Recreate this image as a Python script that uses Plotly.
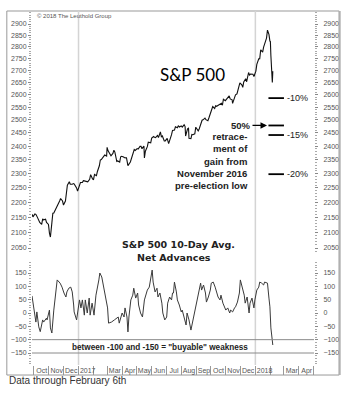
import math
import plotly.graph_objects as go
import pandas as pd

# ---------------- data ----------------
sp_dates = [
    "2016-09-27", "2016-09-29", "2016-10-03", "2016-10-05", "2016-10-07", "2016-10-11", "2016-10-13",
    "2016-10-17", "2016-10-19", "2016-10-21", "2016-10-25", "2016-10-27", "2016-10-31", "2016-11-02",
    "2016-11-04", "2016-11-07", "2016-11-09", "2016-11-11", "2016-11-15", "2016-11-17", "2016-11-21",
    "2016-11-23", "2016-11-25", "2016-11-29", "2016-12-01", "2016-12-05", "2016-12-07", "2016-12-09",
    "2016-12-13", "2016-12-15", "2016-12-19", "2016-12-21", "2016-12-23", "2016-12-28", "2016-12-30",
    "2017-01-03", "2017-01-05", "2017-01-09", "2017-01-11", "2017-01-13", "2017-01-18", "2017-01-20",
    "2017-01-24", "2017-01-26", "2017-01-30", "2017-02-01", "2017-02-03", "2017-02-07", "2017-02-09",
    "2017-02-13", "2017-02-15", "2017-02-17", "2017-02-22", "2017-02-24", "2017-02-28", "2017-03-01",
    "2017-03-03", "2017-03-07", "2017-03-09", "2017-03-13", "2017-03-15", "2017-03-17", "2017-03-21",
    "2017-03-23", "2017-03-27", "2017-03-29", "2017-03-31", "2017-04-04", "2017-04-06", "2017-04-10",
    "2017-04-12", "2017-04-13", "2017-04-18", "2017-04-20", "2017-04-24", "2017-04-26", "2017-04-28",
    "2017-05-02", "2017-05-04", "2017-05-08", "2017-05-10", "2017-05-12", "2017-05-16", "2017-05-17",
    "2017-05-19", "2017-05-23", "2017-05-25", "2017-05-30", "2017-06-01", "2017-06-05", "2017-06-07",
    "2017-06-09", "2017-06-13", "2017-06-15", "2017-06-19", "2017-06-21", "2017-06-23", "2017-06-27",
    "2017-06-29", "2017-07-03", "2017-07-06", "2017-07-10", "2017-07-12", "2017-07-14", "2017-07-18",
    "2017-07-20", "2017-07-24", "2017-07-26", "2017-07-28", "2017-08-01", "2017-08-03", "2017-08-07",
    "2017-08-09", "2017-08-10", "2017-08-14", "2017-08-16", "2017-08-17", "2017-08-21", "2017-08-23",
    "2017-08-25", "2017-08-29", "2017-08-31", "2017-09-05", "2017-09-07", "2017-09-11", "2017-09-13",
    "2017-09-15", "2017-09-19", "2017-09-21", "2017-09-25", "2017-09-27", "2017-09-29", "2017-10-03",
    "2017-10-05", "2017-10-09", "2017-10-11", "2017-10-13", "2017-10-17", "2017-10-19", "2017-10-23",
    "2017-10-25", "2017-10-27", "2017-10-31", "2017-11-02", "2017-11-06", "2017-11-08", "2017-11-10",
    "2017-11-14", "2017-11-15", "2017-11-17", "2017-11-21", "2017-11-24", "2017-11-28", "2017-11-30",
    "2017-12-04", "2017-12-06", "2017-12-08", "2017-12-12", "2017-12-14", "2017-12-18", "2017-12-20",
    "2017-12-22", "2017-12-27", "2017-12-29", "2018-01-02", "2018-01-04", "2018-01-08", "2018-01-10",
    "2018-01-12", "2018-01-16", "2018-01-18", "2018-01-22", "2018-01-24", "2018-01-26", "2018-01-29",
    "2018-01-31", "2018-02-01", "2018-02-02", "2018-02-05", "2018-02-06",
]
sp_close = [
    2159.9, 2151.1, 2161.2, 2159.7, 2153.7, 2136.7, 2132.6,
    2126.5, 2144.3, 2141.2, 2143.2, 2133.0, 2126.2, 2097.9,
    2085.2, 2131.5, 2163.3, 2164.4, 2180.4, 2187.1, 2198.2,
    2204.7, 2213.4, 2204.7, 2191.1, 2204.7, 2241.4, 2259.5,
    2271.7, 2262.5, 2262.5, 2265.2, 2263.8, 2249.9, 2238.8,
    2257.8, 2269.0, 2268.9, 2275.3, 2274.6, 2271.9, 2271.3,
    2280.1, 2296.7, 2280.9, 2279.6, 2297.4, 2293.1, 2307.9,
    2328.3, 2349.3, 2351.2, 2362.8, 2367.3, 2363.6, 2396.0,
    2383.1, 2368.4, 2364.9, 2373.5, 2385.3, 2378.3, 2344.0,
    2346.0, 2341.6, 2361.1, 2362.7, 2360.2, 2357.5, 2357.2,
    2344.9, 2329.0, 2342.2, 2355.8, 2374.2, 2387.5, 2384.2,
    2391.2, 2389.5, 2399.4, 2399.6, 2390.9, 2400.7, 2357.0,
    2381.7, 2398.4, 2415.1, 2412.9, 2430.1, 2436.1, 2433.1,
    2431.8, 2440.4, 2432.5, 2453.5, 2435.6, 2438.3, 2419.4,
    2419.7, 2429.0, 2409.8, 2427.4, 2443.3, 2459.3, 2460.6,
    2473.5, 2469.9, 2477.8, 2472.1, 2476.4, 2472.2, 2480.9,
    2474.0, 2438.2, 2465.8, 2468.1, 2430.0, 2428.4, 2444.0,
    2443.1, 2446.3, 2471.7, 2457.9, 2465.1, 2488.1, 2498.4,
    2500.2, 2506.7, 2500.6, 2496.7, 2507.0, 2519.4, 2534.6,
    2552.1, 2544.7, 2555.2, 2553.2, 2559.4, 2562.1, 2565.0,
    2557.2, 2581.1, 2575.3, 2579.9, 2591.1, 2594.4, 2582.3,
    2578.9, 2564.6, 2578.9, 2599.0, 2602.4, 2627.0, 2647.6,
    2639.4, 2629.3, 2651.5, 2664.1, 2652.0, 2690.2, 2679.3,
    2683.3, 2682.6, 2673.6, 2695.8, 2724.0, 2747.7, 2748.2,
    2786.2, 2776.4, 2798.0, 2833.0, 2837.5, 2872.9, 2853.5,
    2823.8, 2822.0, 2762.1, 2648.9, 2695.1,
]

na_dates = [
    "2016-09-27", "2016-10-05", "2016-10-07", "2016-10-11", "2016-10-14", "2016-10-19", "2016-10-21",
    "2016-10-27", "2016-10-28", "2016-11-02", "2016-11-04", "2016-11-07", "2016-11-11", "2016-11-14",
    "2016-11-18", "2016-11-24", "2016-11-28", "2016-12-02", "2016-12-06", "2016-12-08", "2016-12-12",
    "2016-12-16", "2016-12-19", "2016-12-22", "2016-12-23", "2016-12-28", "2016-12-30", "2017-01-03",
    "2017-01-06", "2017-01-09", "2017-01-13", "2017-01-15", "2017-01-19", "2017-01-23", "2017-01-25",
    "2017-01-29", "2017-02-02", "2017-02-06", "2017-02-12", "2017-02-14", "2017-02-18", "2017-02-22",
    "2017-02-26", "2017-03-02", "2017-03-04", "2017-03-10", "2017-03-16", "2017-03-24", "2017-03-26",
    "2017-04-01", "2017-04-05", "2017-04-07", "2017-04-11", "2017-04-13", "2017-04-15", "2017-04-19",
    "2017-04-23", "2017-04-25", "2017-04-29", "2017-05-03", "2017-05-05", "2017-05-09", "2017-05-13",
    "2017-05-17", "2017-05-23", "2017-05-27", "2017-06-02", "2017-06-04", "2017-06-08", "2017-06-12",
    "2017-06-14", "2017-06-18", "2017-06-22", "2017-06-24", "2017-06-28", "2017-07-02", "2017-07-04",
    "2017-07-08", "2017-07-12", "2017-07-14", "2017-07-16", "2017-07-18", "2017-07-22", "2017-07-24",
    "2017-07-28", "2017-08-01", "2017-08-03", "2017-08-07", "2017-08-11", "2017-08-13", "2017-08-17",
    "2017-08-21", "2017-08-23", "2017-08-27", "2017-08-31", "2017-09-02", "2017-09-06", "2017-09-10",
    "2017-09-12", "2017-09-16", "2017-09-20", "2017-09-22", "2017-09-26", "2017-09-30", "2017-10-02",
    "2017-10-06", "2017-10-10", "2017-10-12", "2017-10-16", "2017-10-20", "2017-10-22", "2017-10-26",
    "2017-10-30", "2017-11-01", "2017-11-05", "2017-11-09", "2017-11-11", "2017-11-15", "2017-11-19",
    "2017-11-21", "2017-11-25", "2017-11-29", "2017-12-01", "2017-12-05", "2017-12-09", "2017-12-11",
    "2017-12-15", "2017-12-19", "2017-12-21", "2017-12-25", "2017-12-29", "2017-12-31", "2018-01-04",
    "2018-01-08", "2018-01-10", "2018-01-14", "2018-01-18", "2018-01-20", "2018-01-26", "2018-01-29",
    "2018-01-31", "2018-02-02", "2018-02-06",
]
na_vals = [
    64, -34, 4, -52, -70, -26, -34,
    -19, -26, 11, -56, -75, 11, 67,
    124, 112, 97, 75, 60, 79, 93,
    97, 79, 30, 4, -26, 4, 49,
    19, 49, -8, 49, 0, 56, -8,
    37, -8, 67, 124, 150, 135, 97,
    60, 19, -38, -34, -26, -15, -38,
    0, -15, 19, -15, -71, -15, 49,
    67, 93, 56, 75, 30, 0, -15,
    49, 86, 97, 161, 116, 79, 93,
    60, 75, 37, 0, -26, -15, 37,
    60, 49, 75, 75, 116, 79, 49,
    30, 4, 11, -19, -45, 0, -26,
    -64, -45, -8, 23, 37, 75, 112,
    86, 105, 75, 41, 60, 86, 112,
    116, 97, 86, 60, 49, 67, 37,
    19, 11, 19, 0, 11, 4, 19,
    23, 41, 75, 124, 97, 67, 37,
    60, 0, 37, 56, 19, 49, 86,
    97, 116, 112, 105, 116, 112, 56,
    23, -56, -120,
]

sp_ticks = [2050, 2100, 2150, 2200, 2250, 2300, 2350, 2400, 2450, 2500,
            2550, 2600, 2650, 2700, 2750, 2800, 2850, 2900]
na_ticks = [-150, -100, -50, 0, 50, 100, 150]

month_starts = ["2016-10-01", "2016-11-01", "2016-12-01", "2017-01-01", "2017-03-01", "2017-04-01",
                "2017-05-01", "2017-06-01", "2017-07-01", "2017-08-01", "2017-09-01", "2017-10-01",
                "2017-11-01", "2017-12-01", "2018-01-01", "2018-03-01", "2018-04-01"]
month_labels = ["Oct", "Nov", "Dec", "2017", "Mar", "Apr", "May", "Jun", "Jul", "Aug", "Sep", "Oct",
                "Nov", "Dec", "2018", "Mar", "Apr"]

peak = 2872.87
election_low = 2083.79
drawdown_pcts = [-10, -15, -20]
drawdown_labels = ["-10%", "-15%", "-20%"]
year_lines = ["2017-01-01", "2018-01-01"]
buyable_band = [-100, -150]

# ---------------- figure ----------------
FONT = "Liberation Sans, Arial, sans-serif"
SP_RANGE = [3.23308, 3.47114]
NA_RANGE = [-195, 1132.5]

fig = go.Figure()
fig.add_trace(go.Scatter(x=sp_dates, y=sp_close, mode="lines",
                         line=dict(color="#111111", width=1.1), xaxis="x", yaxis="y",
                         hoverinfo="skip"))
fig.add_trace(go.Scatter(x=na_dates, y=na_vals, mode="lines",
                         line=dict(color="#3a3a3a", width=1), xaxis="x", yaxis="y2",
                         hoverinfo="skip"))
# invisible companions so the right-hand axes are drawn
fig.add_trace(go.Scatter(x=sp_dates, y=sp_close, mode="lines", line=dict(width=0),
                         opacity=0, xaxis="x", yaxis="y3", hoverinfo="skip"))
fig.add_trace(go.Scatter(x=na_dates, y=na_vals, mode="lines", line=dict(width=0),
                         opacity=0, xaxis="x", yaxis="y4", hoverinfo="skip"))

label_pos = []
for d, lab in zip(month_starts, month_labels):
    off = 19 if lab.isdigit() else 16
    label_pos.append((pd.Timestamp(d) + pd.Timedelta(days=off)).strftime("%Y-%m-%d"))

tickfont = dict(family=FONT, size=7, color="#555555")
sp_minor = list(range(2040, 2960, 10))
na_minor = list(range(-190, 200, 10))

common_y = dict(showgrid=False, zeroline=False, showline=False, ticks="outside",
                ticklen=3, tickcolor="#888888", tickwidth=1, tickfont=tickfont)

fig.update_layout(
    width=350, height=394,
    margin=dict(l=28, r=31, t=11, b=29),
    paper_bgcolor="white", plot_bgcolor="white",
    showlegend=False,
    xaxis=dict(type="date", range=["2016-09-27", "2018-05-02"], domain=[0, 1], anchor="y",
               tickmode="array", tickvals=label_pos, ticktext=month_labels, ticks="",
               tickangle=0, tickfont=tickfont, showgrid=False, zeroline=False, showline=False,
               minor=dict(ticks="outside", ticklen=9, tickcolor="#999999", tickwidth=1,
                          dtick="M1", tick0="2016-10-01", showgrid=False)),
    yaxis=dict(type="log", range=SP_RANGE, domain=[0, 1], anchor="x", side="left",
               tickmode="array", tickvals=sp_ticks,
               minor=dict(tickvals=sp_minor, ticks="outside", ticklen=2, tickcolor="#aaaaaa",
                          showgrid=False),
               **common_y),
    yaxis2=dict(type="linear", range=NA_RANGE, overlaying="y", anchor="x", side="left",
                tickmode="array", tickvals=na_ticks,
                minor=dict(tickvals=na_minor, ticks="outside", ticklen=2, tickcolor="#aaaaaa",
                           showgrid=False),
                **common_y),
    yaxis3=dict(type="log", range=SP_RANGE, overlaying="y", anchor="x", side="right",
                tickmode="array", tickvals=sp_ticks, ticklabelstandoff=4,
                minor=dict(tickvals=sp_minor, ticks="outside", ticklen=2, tickcolor="#aaaaaa",
                           showgrid=False),
                **common_y),
    yaxis4=dict(type="linear", range=NA_RANGE, overlaying="y", anchor="x", side="right",
                tickmode="array", tickvals=na_ticks, ticklabelstandoff=4,
                minor=dict(tickvals=na_minor, ticks="outside", ticklen=2, tickcolor="#aaaaaa",
                           showgrid=False),
                **common_y),
)

shapes = []
shapes.append(dict(type="rect", xref="paper", yref="paper", x0=-0.0893, x1=1.0893,
                   y0=-0.0283, y1=1.0, line=dict(color="#999999", width=1), layer="below"))
shapes.append(dict(type="line", xref="paper", yref="paper", x0=1.0911, x1=1.0911,
                   y0=-0.0283, y1=1.0, line=dict(color="#b0b0b0", width=2)))
for d in year_lines:
    shapes.append(dict(type="line", xref="x", yref="paper", x0=d, x1=d, y0=0, y1=1,
                       line=dict(color="#d4d4d4", width=1.5), layer="below"))
for v in buyable_band:
    shapes.append(dict(type="line", xref="paper", yref="y2", x0=0, x1=1, y0=v, y1=v,
                       line=dict(color="#8a8a8a", width=1)))
retrace = (peak + election_low) / 2
levels = [peak * (1 + p / 100) for p in drawdown_pcts]
for lv in levels + [retrace]:
    shapes.append(dict(type="line", xref="x", yref="y", x0="2018-01-28", x1="2018-03-01",
                       y0=lv, y1=lv, line=dict(color="black", width=1.8)))
fig.update_layout(shapes=shapes)

ann = []
ann.append(dict(xref="paper", yref="paper", x=0.012, y=0.986, text="© 2018 The Leuthold Group",
                showarrow=False, xanchor="left", yanchor="middle",
                font=dict(family=FONT, size=6, color="#555555")))
ann.append(dict(xref="paper", yref="paper", x=0.5687, y=0.822, text="S&P 500", showarrow=False,
                xanchor="center", yanchor="middle",
                font=dict(family="Lato, sans-serif", size=17, color="black")))
for lv, lab in zip(levels, drawdown_labels):
    ann.append(dict(xref="x", yref="y", x="2018-03-04", y=math.log10(lv), text=lab,
                    showarrow=False, xanchor="left", yanchor="middle",
                    font=dict(family=FONT, size=9, color="#222222")))
ann.append(dict(xref="x", yref="y", x="2018-01-25", y=math.log10(retrace), text="<b>50%</b>",
                showarrow=True, ax=-26, ay=0, arrowhead=2, arrowsize=1, arrowwidth=1.3,
                arrowcolor="black", font=dict(family=FONT, size=9.5, color="#222222")))
ann.append(dict(xref="paper", yref="paper", x=0.7732, y=0.5763,
                text="<b>retrace-<br>ment of<br>gain from<br>November 2016<br>pre-election low</b>",
                showarrow=False, xanchor="right", yanchor="middle", align="right",
                font=dict(family=FONT, size=9.5, color="#222222")))
ann.append(dict(xref="paper", yref="paper", x=0.519, y=0.3418, text="<b>S&P 500 10-Day Avg.</b>",
                showarrow=False, xanchor="center", yanchor="middle",
                font=dict(family="DejaVu Sans, sans-serif", size=9.5, color="#222222")))
ann.append(dict(xref="paper", yref="paper", x=0.505, y=0.305, text="<b>Net Advances</b>",
                showarrow=False, xanchor="center", yanchor="middle",
                font=dict(family="DejaVu Sans, sans-serif", size=9.5, color="#222222")))
ann.append(dict(xref="paper", yref="paper", x=0.4536, y=0.0508,
                text="<b>between -100 and -150 = \"buyable\" weakness</b>",
                showarrow=False, xanchor="center", yanchor="middle",
                font=dict(family=FONT, size=8.2, color="#222222")))
ann.append(dict(xref="paper", yref="paper", x=-0.0893, y=-0.0424,
                text="Data through February 6th", showarrow=False,
                xanchor="left", yanchor="middle",
                font=dict(family=FONT, size=10, color="#333333")))
fig.update_layout(annotations=ann)

fig.write_html("out.html")
